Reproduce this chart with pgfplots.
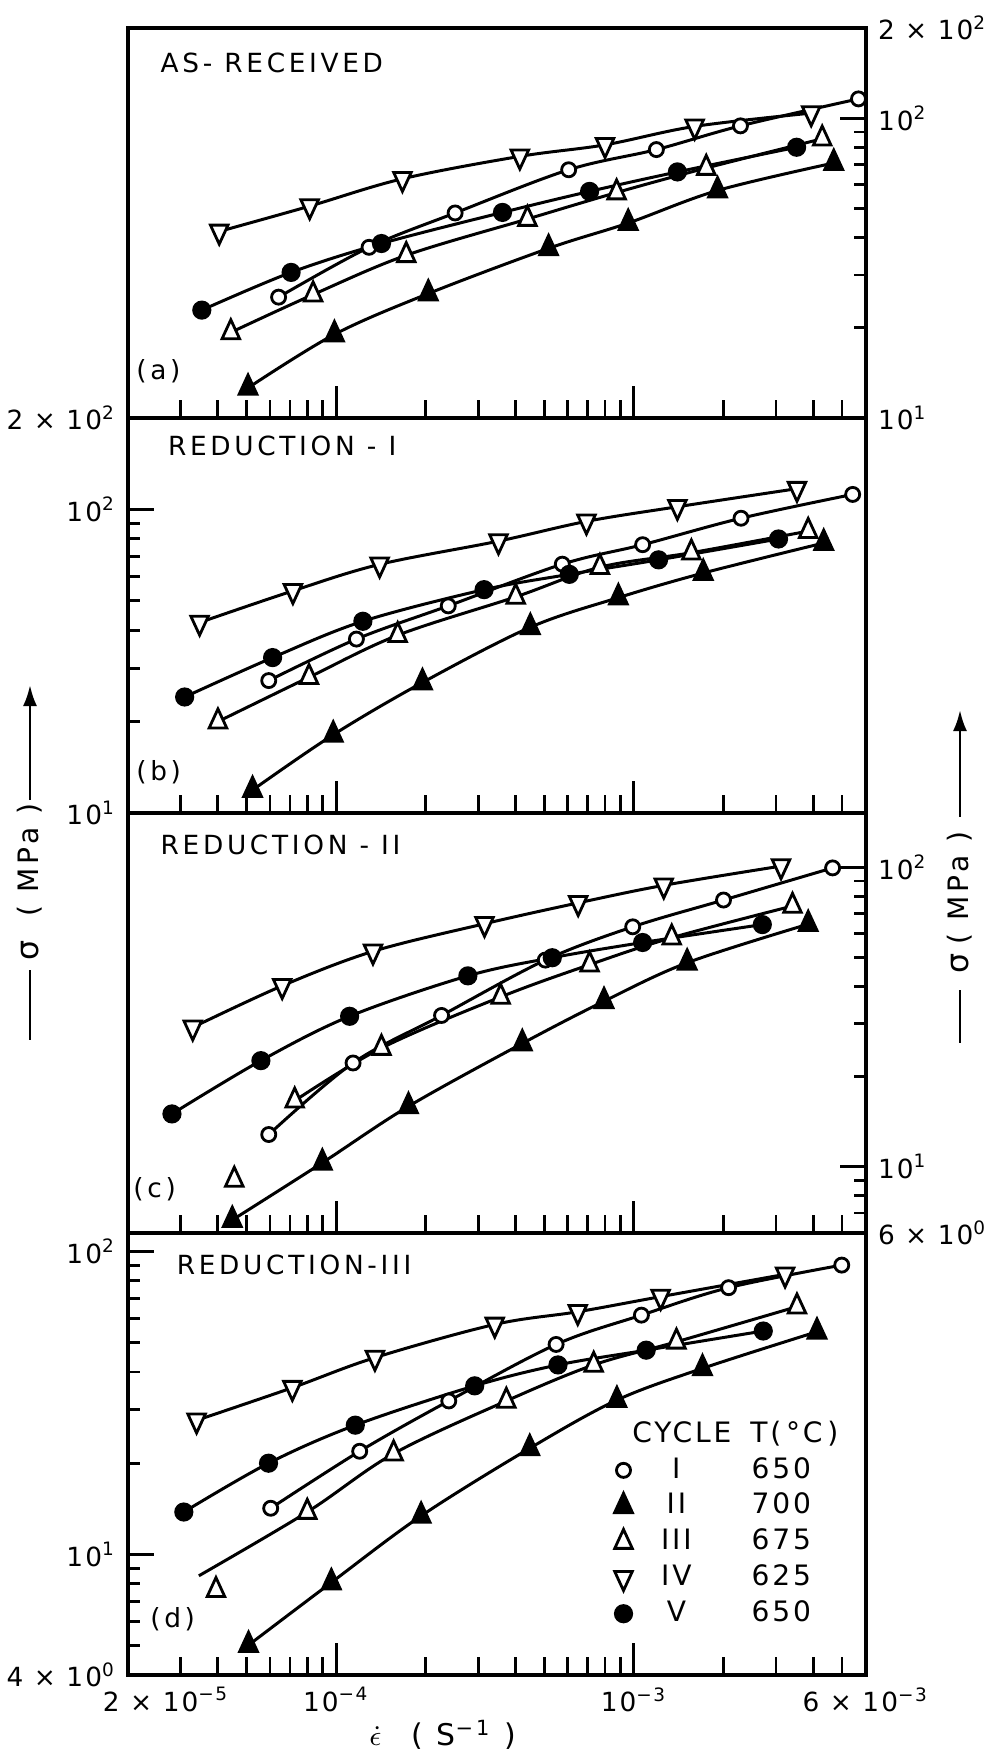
\documentclass[border=0pt]{standalone}
\usepackage{fontspec}
\setmainfont{DejaVu Sans}[LetterSpace=8]
\newfontfamily\lett{DejaVu Sans}[LetterSpace=14]
\newfontfamily\lgd{DejaVu Sans}[LetterSpace=10]
\usepackage{pgfplots}
\pgfplotsset{compat=1.18}
\usetikzlibrary{arrows.meta}

\pgfplotsset{
  pnlbase/.style={
    scale only axis, width=7.376cm,
    xmin=2e-5, xmax=6e-3, clip=false,
    axis line style={line width=1.1pt},
    tick align=inside, xtick pos=left,
    xtick={1e-4,1e-3},
    minor xtick={3e-5,4e-5,5e-5,6e-5,7e-5,8e-5,9e-5,2e-4,3e-4,4e-4,5e-4,6e-4,7e-4,8e-4,9e-4,2e-3,3e-3,4e-3,5e-3},
    tick style={black, line width=0.8pt},
    xtick style={/pgfplots/major tick length=0.32cm, /pgfplots/minor tick length=0.18cm},
    ytick style={/pgfplots/major tick length=0.26cm, /pgfplots/minor tick length=0.12cm},
    tick label style={font=\fontsize{7.5}{8}\selectfont},
  },
  crv/.style={smooth, tension=0.55, line width=0.85pt, black},
  sI/.style={crv, mark=*, mark size=2.0pt, mark options={solid, fill=white, line width=0.8pt}},
  sII/.style={crv, mark=triangle*, mark size=3.6pt, mark options={solid, fill=black, xscale=0.8}},
  sIII/.style={crv, mark=triangle*, mark size=3.6pt, mark options={solid, fill=white, xscale=0.8, line width=0.8pt}},
  sIV/.style={crv, mark=triangle*, mark size=3.6pt, mark options={solid, fill=white, xscale=0.8, rotate=180, line width=0.8pt}},
  sV/.style={crv, mark=*, mark size=2.3pt, mark options={solid, fill=black}},
}
\tikzset{
  ttl/.style={anchor=north west, inner sep=0.5pt, font=\lett\fontsize{7.5}{8}\selectfont},
  lbl/.style={anchor=south west, inner sep=0.5pt, font=\lett\fontsize{7.5}{8}\selectfont},
}

\begin{document}
\begin{tikzpicture}
\useasboundingbox (-1.28,-0.74) rectangle (8.77,16.75);

% (a) as-received
\begin{axis}[xmode=log, ymode=log, pnlbase, at={(0cm,12.57cm)}, anchor=south west, height=3.90cm,
  ymin=10, ymax=200, ytick pos=right, ytick={10,100,200},
  yticklabels={10\textsuperscript{1},10\textsuperscript{2},2 × 10\textsuperscript{2}},
  minor ytick={20,30,40,50,60,70,80,90}, xticklabels={,,}]
\addplot[sIV] coordinates {(4.05e-5,41.9) (8.15e-5,50.9) (1.67e-4,62.8) (4.14e-4,74.6) (8.0e-4,81.5) (1.6e-3,93.9) (3.94e-3,104)};
\addplot[sI] coordinates {(6.41e-5,25.3) (1.29e-4,37.1) (2.51e-4,48.3) (6.04e-4,67.3) (1.19e-3,78.6) (2.28e-3,94.3) (5.68e-3,116)};
\addplot[sV] coordinates {(3.54e-5,22.9) (7.06e-5,30.6) (1.42e-4,38.2) (3.62e-4,48.5) (7.10e-4,57.0) (1.40e-3,66.2) (3.52e-3,80.0)};
\addplot[sIII] coordinates {(4.43e-5,19.3) (8.37e-5,25.8) (1.72e-4,34.9) (4.39e-4,46.1) (8.75e-4,56.5) (1.75e-3,68.2) (4.29e-3,85.4)};
\addplot[sII] coordinates {(5.06e-5,12.6) (9.87e-5,19.0) (2.04e-4,26.0) (5.17e-4,36.8) (9.57e-4,44.7) (1.91e-3,57.4) (4.69e-3,70.9)};
\node[ttl] at (rel axis cs:0.041,1) [yshift=-0.22cm] {AS- RECEIVED};
\node[lbl] at (rel axis cs:0.008,0) [yshift=0.33cm] {(a)};
\end{axis}

% (b) reduction I
\begin{axis}[xmode=log, ymode=log, pnlbase, at={(0cm,8.62cm)}, anchor=south west, height=3.95cm,
  ymin=10, ymax=200, ytick pos=left, ytick={10,100,200},
  yticklabels={10\textsuperscript{1},10\textsuperscript{2},2 × 10\textsuperscript{2}},
  minor ytick={20,30,40,50,60,70,80,90}, xticklabels={,,}]
\addplot[sIV] coordinates {(3.48e-5,42.4) (7.16e-5,53.9) (1.40e-4,65.9) (3.51e-4,78.6) (6.93e-4,91.3) (1.40e-3,102) (3.53e-3,117)};
\addplot[sI] coordinates {(5.94e-5,27.3) (1.17e-4,37.4) (2.38e-4,48.1) (5.75e-4,66.0) (1.07e-3,76.5) (2.29e-3,93.5) (5.43e-3,112)};
\addplot[sV] coordinates {(3.10e-5,24.1) (6.12e-5,32.5) (1.23e-4,42.8) (3.14e-4,54.4) (6.07e-4,61.1) (1.21e-3,68.2) (3.06e-3,79.9)};
\addplot[sIII] coordinates {(4.01e-5,20.0) (8.11e-5,28.0) (1.61e-4,38.5) (4.01e-4,51.5) (7.69e-4,64.5) (1.56e-3,72.0) (3.85e-3,84.8)};
\addplot[sII] coordinates {(5.24e-5,11.9) (9.78e-5,18.1) (1.95e-4,26.9) (4.49e-4,40.9) (8.87e-4,51.2) (1.71e-3,61.7) (4.34e-3,77.5)};
\node[ttl] at (rel axis cs:0.051,1) [yshift=-0.15cm] {REDUCTION - I};
\node[lbl] at (rel axis cs:0.008,0) [yshift=0.27cm] {(b)};
\end{axis}

% (c) reduction II
\begin{axis}[xmode=log, ymode=log, pnlbase, at={(0cm,4.42cm)}, anchor=south west, height=4.20cm,
  ymin=6, ymax=152, ytick pos=right, ytick={6,10,100},
  yticklabels={6 × 10\textsuperscript{0},10\textsuperscript{1},10\textsuperscript{2}},
  minor ytick={7,8,9,20,30,40,50,60,70,80,90}, xticklabels={,,}]
\addplot[sIV] coordinates {(3.30e-5,29.2) (6.59e-5,40.2) (1.33e-4,52.4) (3.15e-4,64.8) (6.50e-4,76.1) (1.26e-3,87.1) (3.12e-3,101)};
\addplot[sI] coordinates {(5.94e-5,12.8) (1.14e-4,22.2) (2.26e-4,32.0) (5.04e-4,49.0) (9.91e-4,63.3) (2.00e-3,77.8) (4.65e-3,99.6)};
\addplot[sV] coordinates {(2.81e-5,15.0) (5.59e-5,22.6) (1.11e-4,31.8) (2.77e-4,43.4) (5.32e-4,49.9) (1.07e-3,56.1) (2.70e-3,64.4)};
\addplot[sIII] coordinates {(7.26e-5,16.6) (1.42e-4,24.9) (3.57e-4,36.9) (7.10e-4,47.3) (1.34e-3,58.2) (3.41e-3,74.3)};
\addplot[sIII, only marks] coordinates {(4.55e-5,9.03)};
\addplot[sII] coordinates {(4.48e-5,6.63) (8.99e-5,10.3) (1.75e-4,15.9) (4.22e-4,25.8) (7.94e-4,35.7) (1.51e-3,48.0) (3.85e-3,64.6)};
\node[ttl] at (rel axis cs:0.041,1) [yshift=-0.19cm] {REDUCTION - II};
\node[lbl] at (rel axis cs:0.004,0) [yshift=0.30cm] {(c)};
\end{axis}

% (d) reduction III
\begin{axis}[xmode=log, ymode=log, pnlbase, at={(0cm,0cm)}, anchor=south west, height=4.42cm,
  ymin=4, ymax=115, ytick pos=left, ytick={4,10,100},
  yticklabels={4 × 10\textsuperscript{0},10\textsuperscript{1},10\textsuperscript{2}},
  minor ytick={5,6,7,8,9,20,30,40,50,60,70,80,90},
  xticklabels={10\textsuperscript{−4},10\textsuperscript{−3}},
  extra x ticks={2e-5,6e-3},
  extra x tick labels={\makebox[0pt][l]{\hspace*{-0.25cm}2 × 10\textsuperscript{−5}},6 × 10\textsuperscript{−3}},
  legend image code/.code={\draw[#1] plot coordinates {(0.1cm,0cm)};},
  legend style={draw=none, fill=none, at={(rel axis cs:0.643,0.595)}, anchor=north west,
    legend cell align=left, row sep=1.8pt,
    nodes={inner sep=0.6pt, text height=5.8pt, text depth=1.4pt},
    font=\lgd\fontsize{8}{9}\selectfont}]
\addplot[sIV, forget plot] coordinates {(3.40e-5,27.7) (7.13e-5,35.5) (1.35e-4,44.6) (3.41e-4,57.4) (6.48e-4,63.2) (1.23e-3,70.9) (3.22e-3,84.0)};
\addplot[sI, forget plot] coordinates {(6.03e-5,14.2) (1.20e-4,21.9) (2.39e-4,32.1) (5.48e-4,49.3) (1.06e-3,61.6) (2.08e-3,75.9) (4.99e-3,90.1)};
\addplot[sV, forget plot] coordinates {(3.08e-5,13.8) (5.93e-5,20.0) (1.16e-4,26.7) (2.92e-4,36.0) (5.56e-4,42.2) (1.10e-3,47.2) (2.72e-3,54.6)};
\addplot[crv, forget plot] coordinates {(3.46e-5,8.50) (8.00e-5,13.8) (1.56e-4,21.5) (3.73e-4,32.1) (7.33e-4,42.2) (1.39e-3,50.3) (3.53e-3,65.7)};
\addplot[sIII, only marks, forget plot] coordinates {(3.95e-5,7.62) (8.00e-5,13.8) (1.56e-4,21.5) (3.73e-4,32.1) (7.33e-4,42.2) (1.39e-3,50.3) (3.53e-3,65.7)};
\addplot[sII, forget plot] coordinates {(5.08e-5,5.02) (9.64e-5,8.08) (1.93e-4,13.4) (4.47e-4,22.4) (8.77e-4,32.3) (1.70e-3,41.1) (4.12e-3,54.3)};
\addlegendimage{empty legend}
\addlegendentry{\makebox[0.95cm][c]{CYCLE}\makebox[1.30cm][c]{T(\,°C\,)}}
\addlegendimage{sI} \addlegendentry{\makebox[0.84cm][c]{I}\makebox[1.26cm][c]{650}}
\addlegendimage{sII} \addlegendentry{\makebox[0.84cm][c]{II}\makebox[1.26cm][c]{700}}
\addlegendimage{sIII} \addlegendentry{\makebox[0.84cm][c]{III}\makebox[1.26cm][c]{675}}
\addlegendimage{sIV} \addlegendentry{\makebox[0.84cm][c]{IV}\makebox[1.26cm][c]{625}}
\addlegendimage{sV} \addlegendentry{\makebox[0.84cm][c]{V}\makebox[1.26cm][c]{650}}
\node[ttl] at (rel axis cs:0.063,1) [yshift=-0.19cm] {REDUCTION-III};
\node[lbl] at (rel axis cs:0.027,0) [yshift=0.42cm] {(d)};
\end{axis}

% axis titles
\node[font=\lett\fontsize{8.5}{9}\selectfont] at (3.15,-0.60) {$\dot{\epsilon}$\quad( S\textsuperscript{−1} )};
\draw[line width=0.8pt] (-0.98,6.35) -- (-0.98,7.05);
\node[rotate=90, font=\lett\fontsize{9}{9}\selectfont] at (-0.98,7.25) {σ};
\node[rotate=90, font=\lett\fontsize{8}{9}\selectfont] at (-0.98,8.15) {( MPa )};
\draw[line width=0.8pt, -{Latex[length=6pt,width=4pt]}] (-0.98,8.75) -- (-0.98,9.90);
\draw[line width=0.8pt] (8.32,6.32) -- (8.32,6.85);
\node[rotate=90, font=\lett\fontsize{9}{9}\selectfont] at (8.32,7.115) {σ};
\node[rotate=90, font=\lett\fontsize{8}{9}\selectfont] at (8.32,7.87) {( MPa )};
\draw[line width=0.8pt, -{Latex[length=6pt,width=4pt]}] (8.32,8.58) -- (8.32,9.65);
\end{tikzpicture}
\end{document}
